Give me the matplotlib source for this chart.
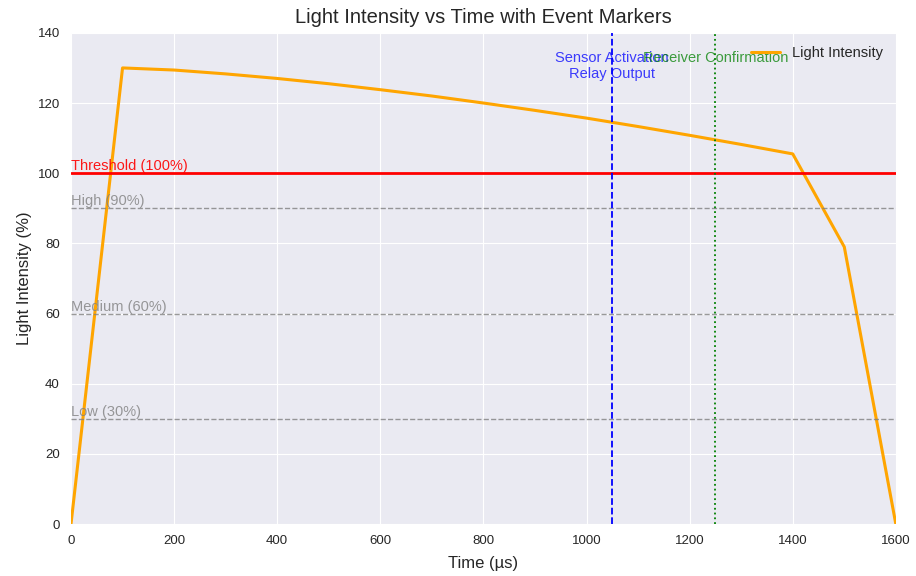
import matplotlib
matplotlib.use('Agg')
import matplotlib.pyplot as plt

plt.style.use('seaborn-v0_8-darkgrid')
plt.rcParams['font.family'] = ['Liberation Sans', 'DejaVu Sans']

# Light intensity curve (time in µs, intensity in %)
time_us = [0, 100, 200, 300, 400, 500, 600, 700, 800, 900, 1000, 1100, 1200, 1300, 1400, 1500, 1600]
intensity = [0, 130.0, 129.4, 128.3, 127.0, 125.5, 123.8, 122.0, 120.0, 117.9, 115.7, 113.3, 110.8,
             108.2, 105.5, 79.0, 0]

# Reference levels
level_names = ['High (90%)', 'Medium (60%)', 'Low (30%)']
level_values = [90, 60, 30]
threshold = 100

# Event markers
event_times = [1050, 1250]
event_labels = ['Sensor Activation\nRelay Output', 'Receiver Confirmation']
event_colors = ['blue', 'green']
event_styles = ['--', ':']

fig = plt.figure(figsize=(9.16, 5.76), dpi=100)
ax = fig.add_axes([0.0775, 0.09, 0.9005, 0.853])

ax.plot(time_us, intensity, color='orange', linewidth=2.2, label='Light Intensity')

ax.axhline(threshold, color='red', linewidth=2)
ax.text(0, threshold, 'Threshold (100%)', color='red', fontsize=10.5, va='bottom', ha='left', alpha=0.9)

for name, val in zip(level_names, level_values):
    ax.axhline(val, color='gray', linestyle='--', linewidth=1, alpha=0.8)
    ax.text(0, val, name, color='gray', fontsize=10.5, va='bottom', ha='left', alpha=0.8)

for t, lab, c, ls in zip(event_times, event_labels, event_colors, event_styles):
    ax.axvline(t, color=c, linestyle=ls, linewidth=1.3)
    ax.text(t, 134.8, lab, color=c, fontsize=10.5, ha='center', va='top', alpha=0.75)

ax.set_xlim(0, 1600)
ax.set_ylim(0, 140)
ax.set_xlabel('Time (µs)', fontsize=12, labelpad=6)
ax.set_ylabel('Light Intensity (%)', fontsize=12)
ax.set_title('Light Intensity vs Time with Event Markers', fontsize=14.5, pad=7)
ax.tick_params(labelsize=9.5, pad=8)
ax.legend(loc='upper right', fontsize=10.5, frameon=False)

fig.savefig('out.png', dpi=100)
